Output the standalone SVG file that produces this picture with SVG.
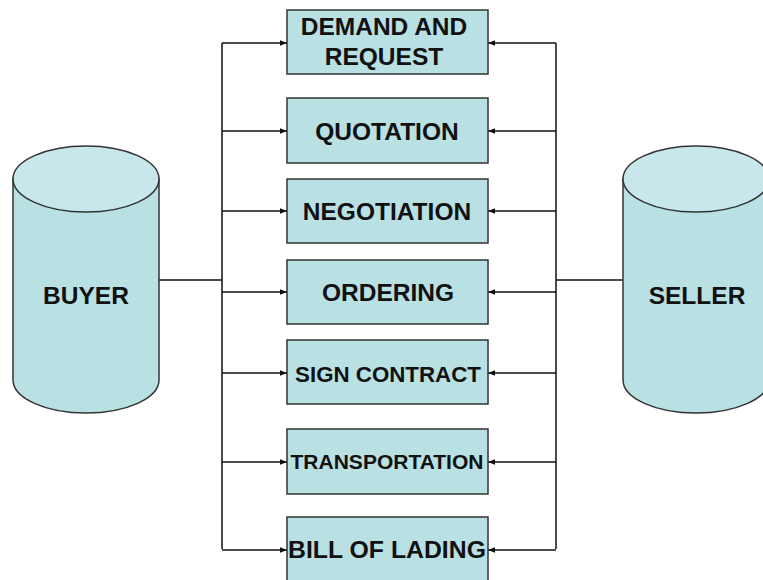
<svg xmlns="http://www.w3.org/2000/svg" width="763" height="580" viewBox="0 0 763 580">
<style>
.box{fill:#b9e0e3;stroke:#333;stroke-width:1.5}
.body{fill:#b9e0e3;stroke:#333;stroke-width:1.5}
.top{fill:#c8e7ea;stroke:#333;stroke-width:1.5}
.lbl{font-family:"Liberation Sans",Arial,sans-serif;font-weight:bold;fill:#111;text-anchor:middle}
.ln{fill:none;stroke:#111;stroke-width:1.5}
</style>
<defs>
<marker id="ah" viewBox="0 0 10 10" refX="10" refY="5" markerWidth="7" markerHeight="7" markerUnits="userSpaceOnUse" orient="auto">
<path d="M0,1 L10,5 L0,9 Z" fill="#111"/>
</marker>
</defs>
<rect width="763" height="580" fill="#fff"/>
<g id="connectors">
<path class="ln" d="M159,280 H222 M222,43 V549"/>
<path class="ln" d="M623,280 H556 M556,43 V549"/>
<path class="ln" marker-end="url(#ah)" d="M222,43 H287"/>
<path class="ln" marker-end="url(#ah)" d="M222,131 H287"/>
<path class="ln" marker-end="url(#ah)" d="M222,211 H287"/>
<path class="ln" marker-end="url(#ah)" d="M222,292 H287"/>
<path class="ln" marker-end="url(#ah)" d="M222,373 H287"/>
<path class="ln" marker-end="url(#ah)" d="M222,462 H287"/>
<path class="ln" marker-end="url(#ah)" d="M222,550 H287"/>
<path class="ln" marker-end="url(#ah)" d="M556,43 H488"/>
<path class="ln" marker-end="url(#ah)" d="M556,131 H488"/>
<path class="ln" marker-end="url(#ah)" d="M556,211 H488"/>
<path class="ln" marker-end="url(#ah)" d="M556,292 H488"/>
<path class="ln" marker-end="url(#ah)" d="M556,373 H488"/>
<path class="ln" marker-end="url(#ah)" d="M556,462 H488"/>
<path class="ln" marker-end="url(#ah)" d="M556,550 H488"/>
</g>
<g id="buyer">
<path class="body" d="M13,179 V380 A73,33 0 0 0 159,380 V179 Z"/>
<ellipse class="top" cx="86" cy="179" rx="73" ry="33"/>
<text class="lbl" x="86" y="304" font-size="24.5">BUYER</text>
</g>
<g id="seller">
<path class="body" d="M623,179 V380 A73,33 0 0 0 769,380 V179 Z"/>
<ellipse class="top" cx="696" cy="179" rx="73" ry="33"/>
<text class="lbl" x="697" y="304" font-size="24.5">SELLER</text>
</g>
<g id="demand">
<rect class="box" x="287" y="10" width="201" height="64"/>
<text class="lbl" x="384" y="35" font-size="24.5">DEMAND AND</text>
<text class="lbl" x="384" y="65" font-size="24.5">REQUEST</text>
</g>
<g id="quotation">
<rect class="box" x="287" y="98" width="201" height="65"/>
<text class="lbl" x="387" y="140" font-size="24.5">QUOTATION</text>
</g>
<g id="negotiation">
<rect class="box" x="287" y="179" width="201" height="64"/>
<text class="lbl" x="387" y="220" font-size="24.5">NEGOTIATION</text>
</g>
<g id="ordering">
<rect class="box" x="287" y="260" width="201" height="64"/>
<text class="lbl" x="388" y="301" font-size="24.5">ORDERING</text>
</g>
<g id="sign-contract">
<rect class="box" x="287" y="340" width="201" height="64"/>
<text class="lbl" x="388" y="382" font-size="22.3">SIGN CONTRACT</text>
</g>
<g id="transportation">
<rect class="box" x="287" y="429" width="201" height="65"/>
<text class="lbl" x="387" y="469" font-size="21">TRANSPORTATION</text>
</g>
<g id="bill-of-lading">
<rect class="box" x="287" y="517" width="201" height="66"/>
<text class="lbl" x="387" y="558" font-size="24.8">BILL OF LADING</text>
</g>
</svg>
